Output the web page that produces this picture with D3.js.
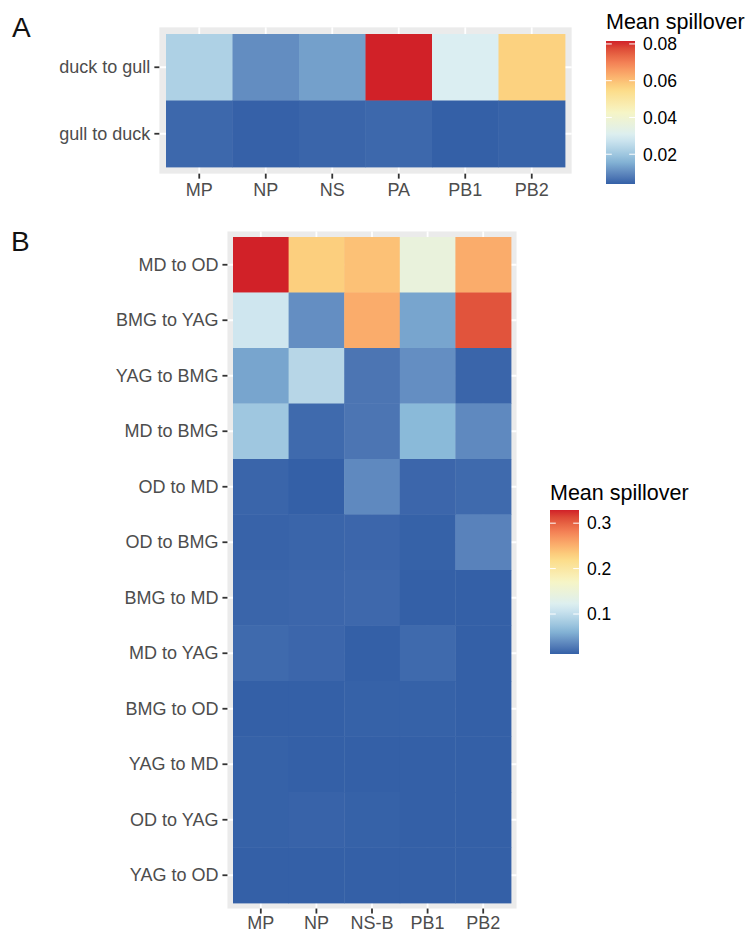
<!DOCTYPE html>
<html>
<head>
<meta charset="utf-8">
<script src="https://cdn.jsdelivr.net/npm/d3@7"></script>
<style>
  html, body { margin: 0; padding: 0; background: #fff; }
  svg { display: block; font-family: "Liberation Sans", Arial, Helvetica, sans-serif; }
</style>
</head>
<body>
<svg id="chart" width="752" height="933"></svg>
<script>
// ---------- DATA ----------
const genesA = ["MP", "NP", "NS", "PA", "PB1", "PB2"];
const directionsA = ["duck to gull", "gull to duck"];
const duckToGull = [0.0225, 0.0105, 0.0132, 0.0816, 0.0300, 0.0570];
const gullToDuck = [0.0050, 0.0040, 0.0045, 0.0050, 0.0038, 0.0042];
const legendTicksA = [0.02, 0.04, 0.06, 0.08];

const genesB = ["MP", "NP", "NS-B", "PB1", "PB2"];
const directionsB = ["MD to OD", "BMG to YAG", "YAG to BMG", "MD to BMG", "OD to MD", "OD to BMG",
                     "BMG to MD", "MD to YAG", "BMG to OD", "YAG to MD", "OD to YAG", "YAG to OD"];
const valuesB = [
  [0.329, 0.231, 0.240, 0.145, 0.254],  // MD to OD
  [0.110, 0.040, 0.254, 0.053, 0.307],  // BMG to YAG
  [0.053, 0.094, 0.025, 0.040, 0.015],  // YAG to BMG
  [0.078, 0.018, 0.025, 0.065, 0.037],  // MD to BMG
  [0.015, 0.012, 0.037, 0.016, 0.018],  // OD to MD
  [0.014, 0.015, 0.016, 0.013, 0.033],  // OD to BMG
  [0.015, 0.016, 0.017, 0.012, 0.012],  // BMG to MD
  [0.018, 0.016, 0.012, 0.018, 0.012],  // MD to YAG
  [0.012, 0.012, 0.013, 0.013, 0.012],  // BMG to OD
  [0.013, 0.012, 0.012, 0.012, 0.012],  // YAG to MD
  [0.013, 0.014, 0.013, 0.012, 0.012],  // OD to YAG
  [0.012, 0.012, 0.012, 0.012, 0.012]   // YAG to OD
];
const legendTicksB = [0.1, 0.2, 0.3];

const paletteColors = ["#3460A7", "#8ABAD9", "#DAEEF3", "#F6F5C6", "#FCDA84", "#F6895A", "#D12128"];
const legendTitle = "Mean spillover";

// ---------- HELPERS ----------
const svg = d3.select("#chart");
const axisTextColor = "#4D4D4D";
const panelBg = "#EBEBEB";

function colorScaleFor(values) {
  const [mn, mx] = d3.extent(values);
  const dom = paletteColors.map((_, i) => mn + (mx - mn) * i / (paletteColors.length - 1));
  return d3.scaleLinear().domain(dom).range(paletteColors).interpolate(d3.interpolateLab).clamp(true);
}

function drawHeatmap(cfg) {
  const { cats, rows, matrix, x0, x1, y0, y1, labelSize, xLabelGap } = cfg;
  const x = d3.scaleBand().domain(cats).range([x0, x1]).padding(0);
  const y = d3.scaleBand().domain(rows).range([y0, y1]).padding(0);
  const padX = x.bandwidth() * 0.1, padY = y.bandwidth() * 0.1;
  const g = svg.append("g");
  // panel background
  g.append("rect")
    .attr("x", x0 - padX).attr("y", y0 - padY)
    .attr("width", (x1 - x0) + 2 * padX).attr("height", (y1 - y0) + 2 * padY)
    .attr("fill", panelBg);
  // grid lines
  g.selectAll(".gx").data(cats).join("line")
    .attr("x1", d => x(d) + x.bandwidth() / 2).attr("x2", d => x(d) + x.bandwidth() / 2)
    .attr("y1", y0 - padY).attr("y2", y1 + padY)
    .attr("stroke", "#fff").attr("stroke-width", 1.8);
  g.selectAll(".gy").data(rows).join("line")
    .attr("y1", d => y(d) + y.bandwidth() / 2).attr("y2", d => y(d) + y.bandwidth() / 2)
    .attr("x1", x0 - padX).attr("x2", x1 + padX)
    .attr("stroke", "#fff").attr("stroke-width", 1.8);

  const flat = [];
  rows.forEach((r, i) => cats.forEach((c, j) => flat.push({ r, c, v: matrix[i][j] })));
  const color = colorScaleFor(flat.map(d => d.v));
  g.selectAll(".tile").data(flat).join("rect")
    .attr("x", d => x(d.c)).attr("y", d => y(d.r))
    .attr("width", x.bandwidth() + 0.4).attr("height", y.bandwidth() + 0.4)
    .attr("fill", d => color(d.v));

  // axes
  const xAxis = d3.axisBottom(x).tickSize(5);
  const gx = svg.append("g").attr("transform", `translate(0,${y1 + padY})`).call(xAxis);
  const yAxis = d3.axisLeft(y).tickSize(5).tickPadding(4);
  const gy = svg.append("g").attr("transform", `translate(${x0 - padX},0)`).call(yAxis);
  [gx, gy].forEach(a => {
    a.select(".domain").remove();
    a.selectAll(".tick line").attr("stroke", "#333").attr("stroke-width", 1.8);
    a.selectAll(".tick text").attr("fill", axisTextColor)
      .style("font-size", labelSize + "px").style("font-family", '"Liberation Sans", Arial, sans-serif');
  });
  gx.selectAll(".tick text").attr("y", xLabelGap).attr("dy", "0.71em");
  return color;
}

function drawLegend(cfg) {
  const { color, values, ticks, lx, ly, w, h, gid, titleY } = cfg;
  const [mn, mx] = d3.extent(values);
  const ys = d3.scaleLinear().domain([mn, mx]).range([ly + h, ly]);
  const defs = svg.append("defs");
  const grad = defs.append("linearGradient").attr("id", gid)
    .attr("x1", 0).attr("y1", 1).attr("x2", 0).attr("y2", 0);
  d3.range(0, 1.0001, 0.05).forEach(t => {
    grad.append("stop").attr("offset", t).attr("stop-color", color(mn + t * (mx - mn)));
  });
  svg.append("text").attr("x", lx).attr("y", titleY)
    .attr("fill", "#000").style("font-size", "21.5px").text(legendTitle);
  svg.append("rect").attr("x", lx).attr("y", ly).attr("width", w).attr("height", h)
    .attr("fill", `url(#${gid})`);
  const tg = svg.append("g");
  ticks.forEach(t => {
    const yy = ys(t);
    tg.append("line").attr("x1", lx).attr("x2", lx + w / 5).attr("y1", yy).attr("y2", yy)
      .attr("stroke", "#fff").attr("stroke-width", 1);
    tg.append("line").attr("x1", lx + w - w / 5).attr("x2", lx + w).attr("y1", yy).attr("y2", yy)
      .attr("stroke", "#fff").attr("stroke-width", 1);
    tg.append("text").attr("x", lx + w + 8).attr("y", yy).attr("dy", "0.36em")
      .attr("fill", "#000").style("font-size", "17.5px").text(t);
  });
}

// ---------- PANEL A ----------
const matrixA = [duckToGull, gullToDuck];
const colorA = drawHeatmap({ cats: genesA, rows: directionsA, matrix: matrixA,
  x0: 166, x1: 565, y0: 34, y1: 167, labelSize: 18, xLabelGap: 10 });
drawLegend({ color: colorA, values: matrixA.flat(), ticks: legendTicksA,
  lx: 606, ly: 41, w: 29, h: 143, gid: "gradA", titleY: 29 });
svg.append("text").attr("x", 12).attr("y", 37).style("font-size", "28px").attr("fill", "#111").text("A");

// ---------- PANEL B ----------
const colorB = drawHeatmap({ cats: genesB, rows: directionsB, matrix: valuesB,
  x0: 233, x1: 511, y0: 237, y1: 903, labelSize: 18, xLabelGap: 8 });
drawLegend({ color: colorB, values: valuesB.flat(), ticks: legendTicksB,
  lx: 550, ly: 510, w: 29, h: 144, gid: "gradB", titleY: 500 });
svg.append("text").attr("x", 11).attr("y", 251).style("font-size", "28px").attr("fill", "#111").text("B");
</script>
</body>
</html>
